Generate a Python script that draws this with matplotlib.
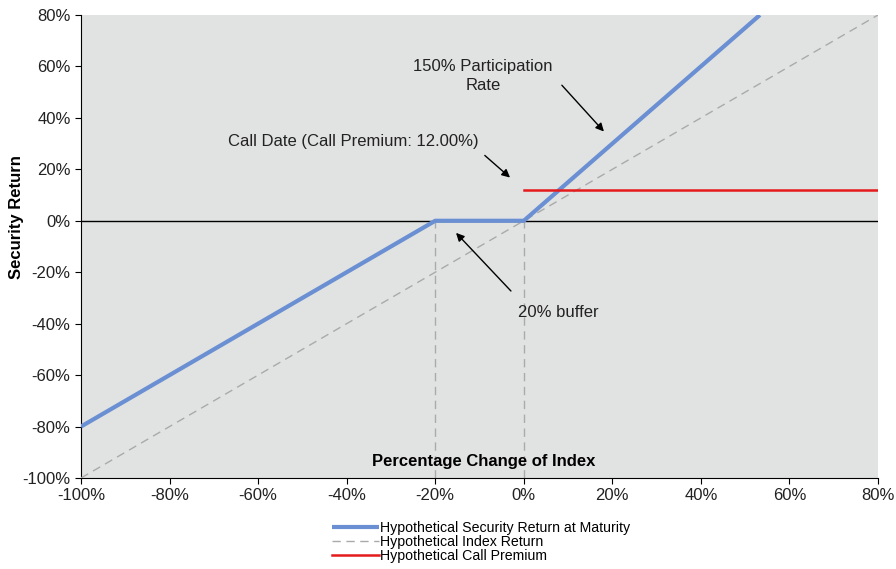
import matplotlib
matplotlib.use("Agg")
import matplotlib.pyplot as plt
from matplotlib.ticker import FuncFormatter

plt.rcParams['font.family'] = ['Liberation Sans', 'DejaVu Sans']

# Payoff profile of the note (index change -> security return, in %)
security_x = [-100, -20, 0, 53.33]
security_y = [-80, 0, 0, 80]

# Index return (1:1 reference line)
index_x = [-100, 80]
index_y = [-100, 80]

# Call premium paid if called
premium_x = [0, 80]
premium_y = [12.0, 12.0]

# Buffer boundaries
buffer_x = [-20, 0]

x_ticks = [-100, -80, -60, -40, -20, 0, 20, 40, 60, 80]
y_ticks = [-100, -80, -60, -40, -20, 0, 20, 40, 60, 80]

fig = plt.figure(figsize=(8.96, 5.69), dpi=100)
ax = fig.add_axes([81/896, 1-478/569, (878-81)/896, (478-15)/569])
ax.set_facecolor('#E1E2E2')

ax.axhline(0, color='black', lw=1, zorder=2)
for bx in buffer_x:
    ax.plot([bx, bx], [-100, 0], color='#AAAAAA', lw=1, ls=(0, (6, 4)), zorder=2)

ax.plot(index_x, index_y, color='#AAAAAA', lw=1, ls=(0, (6, 4)), zorder=3,
        label='Hypothetical Index Return')
ax.plot(security_x, security_y, color='#6A8FD2', lw=3, zorder=4,
        label='Hypothetical Security Return at Maturity', solid_capstyle='butt')
ax.plot(premium_x, premium_y, color='#E41A1C', lw=1.8, zorder=4,
        label='Hypothetical Call Premium')

ax.set_xlim(-100, 80)
ax.set_ylim(-100, 80)
ax.set_xticks(x_ticks)
ax.set_yticks(y_ticks)
pct = FuncFormatter(lambda v, p: f"{v:.0f}%")
ax.xaxis.set_major_formatter(pct)
ax.yaxis.set_major_formatter(pct)
ax.tick_params(axis='both', labelsize=12, direction='out', length=4, colors='black',
               labelcolor='#222222')
for s in ['top', 'right']:
    ax.spines[s].set_visible(False)
for s in ['left', 'bottom']:
    ax.spines[s].set_color('black')

ax.text(-9.0, -93.7, 'Percentage Change of Index', ha='center', va='center',
        fontsize=12, fontweight='bold', color='black')
fig.text(17/896, 1-217/569, 'Security Return', rotation=90, ha='center', va='center',
         fontsize=12, fontweight='bold')

arrow = dict(arrowstyle='-|>', color='black', lw=1, mutation_scale=12, shrinkA=0, shrinkB=0)
ax.annotate('', xy=(18.1, 34.7), xytext=(8.6, 52.7), arrowprops=arrow)
ax.text(-9.2, 56.2, '150% Participation\nRate', ha='center', va='center',
        fontsize=12, color='#222222', linespacing=1.3)
ax.annotate('', xy=(-3.1, 16.8), xytext=(-8.8, 25.4), arrowprops=arrow)
ax.text(-38.6, 30.8, 'Call Date (Call Premium: 12.00%)', ha='center', va='center',
        fontsize=12, color='#222222')
ax.annotate('', xy=(-15.3, -4.7), xytext=(-2.9, -27.3), arrowprops=arrow)
ax.text(7.9, -35.5, '20% buffer', ha='center', va='center', fontsize=12, color='#222222')

handles, labels = ax.get_legend_handles_labels()
order = [1, 0, 2]
fig.legend([handles[i] for i in order], [labels[i] for i in order],
           loc='center', bbox_to_anchor=(481/896, 1-542/569), frameon=False,
           fontsize=10.2, handlelength=3.3, handletextpad=0.1, labelspacing=0.0,
           borderpad=0)

fig.savefig('out.png', dpi=100)
